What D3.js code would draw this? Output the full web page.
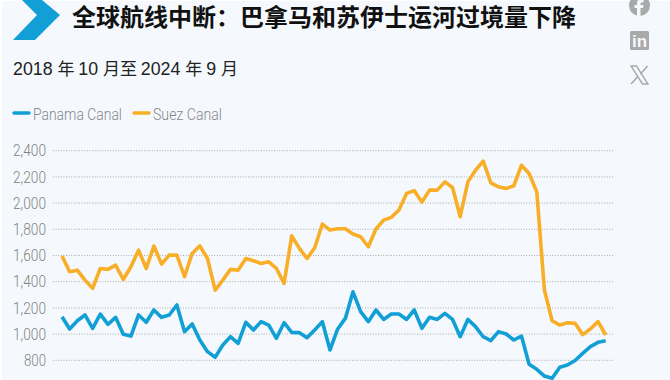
<!doctype html>
<html>
<head>
<meta charset="utf-8"/>
<title>Panama and Suez transits</title>
<script src="https://cdnjs.cloudflare.com/ajax/libs/d3/7.8.5/d3.min.js"></script>
<style>
	html, body { margin: 0; padding: 0; background: #fff; overflow: hidden; }
	svg { display: block; }
	.title { font: 700 24px "Noto Sans CJK SC", sans-serif; fill: #111; }
	.sub { font: 400 17px "Noto Sans CJK SC", sans-serif; fill: #222; }
	.sub-num { font-family: "Liberation Sans", sans-serif; font-size: 17.8px; }
	.legend { font: 300 17px Roboto, sans-serif; fill: #85888d; }
	.axis text { font: 300 16px Roboto, sans-serif; fill: #828282; }
	.axis .domain, .axis .tick line { display: none; }
	.grid line { stroke: #aaa; stroke-width: 1; stroke-dasharray: 1 1.6; }
</style>
</head>
<body>
<svg id="chart" width="670" height="380"></svg>
<script>
// monthly transits, oct 2018 to sep 2024
var panama = [1133,1039,1102,1146,1044,1153,1074,1128,998,985,1146,1090,1184,1128,1146,1222,1018,1077,955,866,823,
	917,980,930,1090,1031,1095,1069,968,1087,1013,1011,973,1031,1095,879,1039,1120,1323,1171,1095,1184,1112,1153,1153,1112,1184,1044,
	1128,1112,1158,1112,980,1112,1057,980,950,1019,1001,955,985,769,731,680,663,747,764,798,853,904,937,950]
var suez = [1596,1476,1488,1412,1349,1501,1494,1526,1417,1514,1641,1501,1672,1534,1603,1603,1438,1616,1674,1577,1336,
	1412,1494,1488,1577,1560,1539,1552,1501,1387,1750,1654,1577,1659,1840,1794,1804,1804,1764,1743,1667,1802,1870,1891,1947,2074,2095,2008,
	2099,2099,2162,2119,1896,2162,2251,2320,2155,2124,2111,2132,2289,2226,2086,1336,1102,1069,1087,1082,996,1039,1095,993]
var yTicks = [800,1000,1200,1400,1600,1800,2000,2200,2400]
var seriesNames = ["Panama Canal","Suez Canal"]
var seriesColors = ["#119fd6","#f8ae27"]

var svg = d3.select("#chart")

svg.append("rect").attr("x",2).attr("y",1).attr("width",668).attr("height",379).attr("fill","#f5f9fd")

// logo chevron
svg.append("path").attr("d","M22 0H42L60 15L35 40H13L37 15Z").attr("fill","#119fd6")

svg.append("text").attr("class","title").attr("x",72).attr("y",26).text("全球航线中断\uFF1A巴拿马和苏伊士运河过境量下降")

var sub = svg.append("text").attr("class","sub").attr("x",13).attr("y",75)
sub.append("tspan").attr("class","sub-num").text("2018 ")
sub.append("tspan").text("年 ")
sub.append("tspan").attr("class","sub-num").text("10 ")
sub.append("tspan").text("月至 ")
sub.append("tspan").attr("class","sub-num").text("2024 ")
sub.append("tspan").text("年 ")
sub.append("tspan").attr("class","sub-num").text("9 ")
sub.append("tspan").text("月")

// share icons
var icons = svg.append("g").attr("fill","#a9a9a9")
icons.append("circle").attr("cx",639.5).attr("cy",5.5).attr("r",10.5)
icons.append("path").attr("d","M637 16V8H634.5V5H637V3C637 0 639 -1 643.5 -0.5V2.5C641 2.3 640.5 2.7 640.5 4V5H643.5L643 8H640.5V16Z").attr("fill","#f5f9fd")
icons.append("rect").attr("x",630).attr("y",31).attr("width",19).attr("height",19).attr("rx",1.5)
icons.append("text").attr("x",639.5).attr("y",47).attr("text-anchor","middle").attr("fill","#f5f9fd")
	.style("font","700 17px 'Liberation Sans'").text("in")
icons.append("path").attr("d","M631 66H636.5L648 84H642.5Z").attr("stroke","#a9a9a9").attr("stroke-width",1.4).attr("fill","none")
icons.append("path").attr("d","M647.5 66L640.5 74M637.5 77L631 84").attr("stroke","#a9a9a9").attr("stroke-width",1.6).attr("fill","none")

// legend
var legendX = [13,133]
var legendW = [89,69]
seriesNames.forEach(function(name,i) {
	svg.append("line").attr("x1",legendX[i]+1).attr("x2",legendX[i]+16).attr("y1",113).attr("y2",113)
		.attr("stroke",seriesColors[i]).attr("stroke-width",3.5).attr("stroke-linecap","round")
	svg.append("text").attr("class","legend").attr("x",legendX[i]+20).attr("y",120).text(name)
		.attr("textLength",legendW[i]).attr("lengthAdjust","spacingAndGlyphs")
})

var x = d3.scaleLinear().domain([0,panama.length-1]).range([62,605.7])
var y = d3.scaleLinear().domain([800,2400]).range([360.3,150.7])

svg.append("g").attr("class","grid").selectAll("line").data(yTicks).enter().append("line")
	.attr("x1",53).attr("x2",613).attr("y1",function(d){return y(d)}).attr("y2",function(d){return y(d)})

svg.append("g").attr("class","axis").attr("transform","translate(53,0)")
	.call(d3.axisLeft(y).tickValues(yTicks).tickFormat(d3.format(",")).tickSize(0).tickPadding(7))
	.selectAll("text")
	.attr("textLength",function(d){return d<1000 ? 22 : 33}).attr("lengthAdjust","spacingAndGlyphs")

var line = d3.line().x(function(d,i){return x(i)}).y(function(d){return y(d)})

svg.selectAll("path.series").data([panama,suez]).enter().append("path")
	.attr("class","series").attr("d",line).attr("fill","none")
	.attr("stroke",function(d,i){return seriesColors[i]})
	.attr("stroke-width",3.6).attr("stroke-linejoin","round")
</script>
</body>
</html>
